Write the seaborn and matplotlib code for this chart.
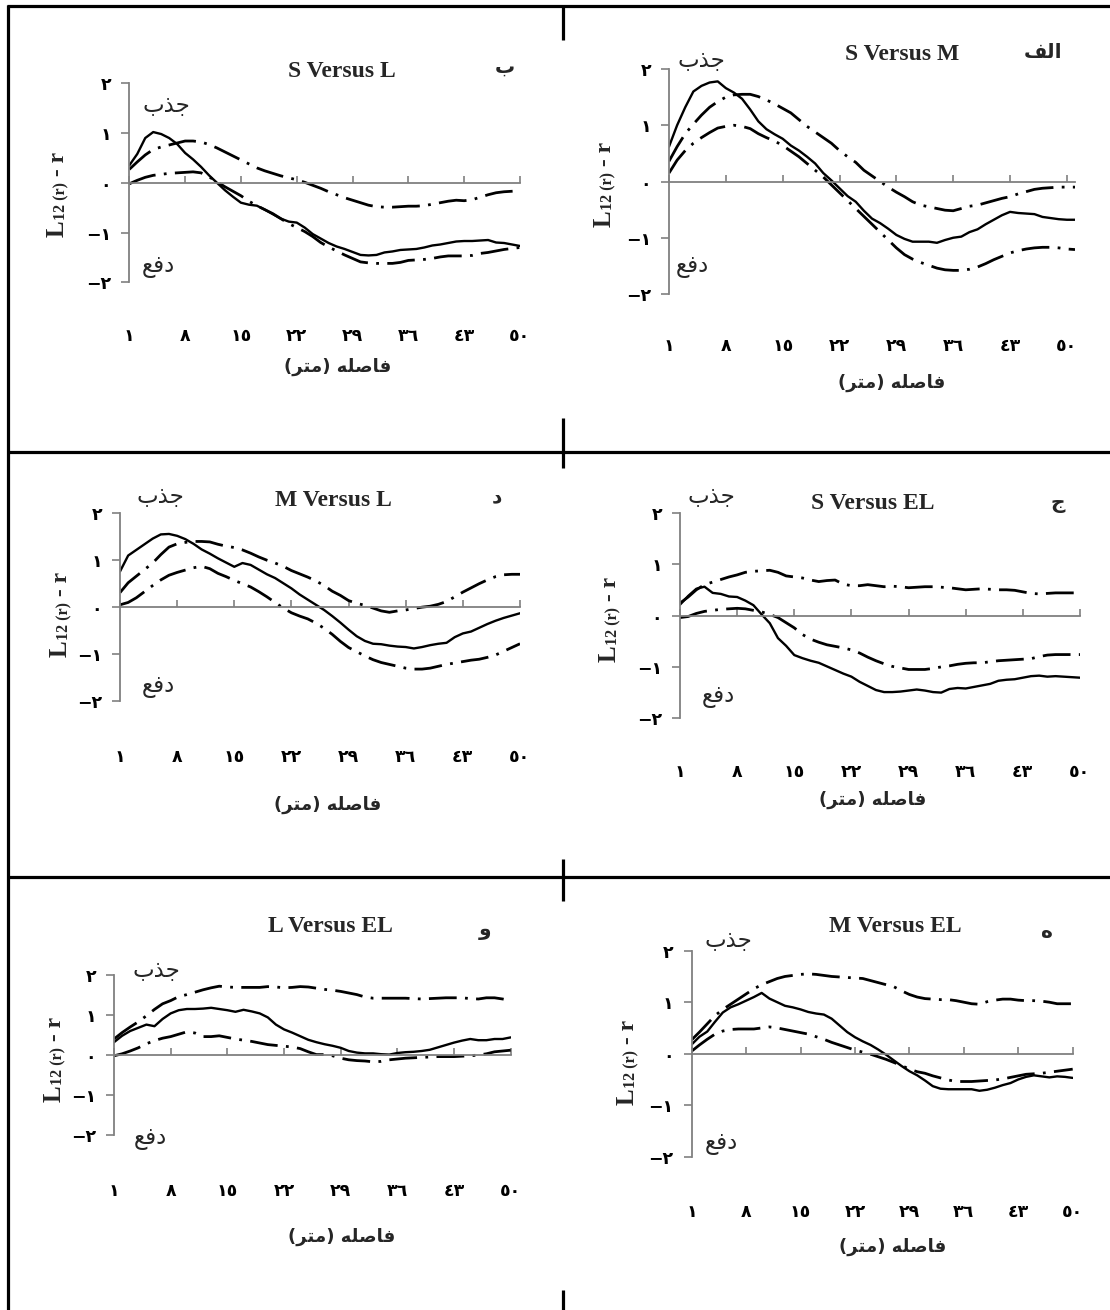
import numpy as np
import pandas as pd
import matplotlib
matplotlib.use("Agg")
import matplotlib.pyplot as plt
from matplotlib.lines import Line2D
import seaborn as sns

# ---------------- data ----------------
DIST_SM = list(range(1, 52))   # panel "alef" runs one category further
DIST = list(range(1, 51))

# S versus M (alef)
SM_OBS = [0.62, 1.00, 1.32, 1.60, 1.70, 1.76, 1.78, 1.66, 1.58, 1.47,
          1.28, 1.07, 0.93, 0.84, 0.76, 0.64, 0.55, 0.44, 0.32, 0.15,
          0.02, -0.12, -0.26, -0.36, -0.52, -0.66, -0.74, -0.84, -0.95, -1.02,
          -1.07, -1.07, -1.07, -1.09, -1.04, -1.00, -0.98, -0.90, -0.85, -0.76,
          -0.68, -0.60, -0.54, -0.56, -0.57, -0.58, -0.63, -0.65, -0.67, -0.68, -0.68]
SM_HI = [0.36, 0.62, 0.85, 1.02, 1.18, 1.32, 1.42, 1.50, 1.54, 1.55,
         1.55, 1.51, 1.45, 1.38, 1.30, 1.22, 1.10, 0.98, 0.88, 0.78,
         0.68, 0.55, 0.44, 0.34, 0.20, 0.10, 0.00, -0.10, -0.19, -0.27,
         -0.36, -0.42, -0.45, -0.48, -0.51, -0.52, -0.48, -0.44, -0.42, -0.38,
         -0.34, -0.30, -0.27, -0.22, -0.18, -0.14, -0.12, -0.11, -0.10, -0.10, -0.10]
SM_LO = [0.15, 0.38, 0.55, 0.68, 0.78, 0.87, 0.95, 0.98, 1.00, 0.98,
         0.94, 0.85, 0.78, 0.72, 0.64, 0.54, 0.44, 0.32, 0.20, 0.08,
         -0.06, -0.20, -0.34, -0.48, -0.62, -0.76, -0.90, -1.04, -1.18, -1.30,
         -1.38, -1.44, -1.49, -1.54, -1.57, -1.58, -1.58, -1.56, -1.52, -1.46,
         -1.39, -1.33, -1.27, -1.23, -1.20, -1.18, -1.17, -1.17, -1.18, -1.20, -1.21]

# S versus L (be)
SL_OBS = [0.35, 0.58, 0.90, 1.02, 0.98, 0.90, 0.78, 0.60, 0.47, 0.32,
          0.15, 0.00, -0.15, -0.28, -0.40, -0.44, -0.46, -0.54, -0.63, -0.72,
          -0.78, -0.80, -0.90, -1.03, -1.12, -1.21, -1.28, -1.33, -1.39, -1.45,
          -1.46, -1.45, -1.40, -1.38, -1.35, -1.34, -1.33, -1.30, -1.26, -1.24,
          -1.21, -1.18, -1.17, -1.17, -1.16, -1.15, -1.20, -1.21, -1.24, -1.27]
SL_HI = [0.27, 0.42, 0.56, 0.67, 0.72, 0.76, 0.80, 0.84, 0.84, 0.82,
         0.77, 0.70, 0.62, 0.54, 0.46, 0.38, 0.30, 0.24, 0.19, 0.14,
         0.10, 0.06, 0.01, -0.05, -0.11, -0.18, -0.24, -0.30, -0.35, -0.40,
         -0.45, -0.48, -0.49, -0.49, -0.48, -0.47, -0.47, -0.46, -0.43, -0.40,
         -0.37, -0.35, -0.36, -0.34, -0.29, -0.24, -0.20, -0.18, -0.17, -0.16]
SL_LO = [-0.02, 0.05, 0.11, 0.15, 0.17, 0.19, 0.20, 0.21, 0.22, 0.20,
         0.12, 0.02, -0.08, -0.17, -0.26, -0.37, -0.46, -0.54, -0.62, -0.72,
         -0.82, -0.90, -0.98, -1.08, -1.20, -1.29, -1.37, -1.45, -1.52, -1.59,
         -1.61, -1.62, -1.62, -1.62, -1.60, -1.56, -1.55, -1.54, -1.52, -1.49,
         -1.47, -1.47, -1.47, -1.46, -1.42, -1.40, -1.37, -1.34, -1.32, -1.30]

# S versus EL (jim)
SEL_OBS = [0.21, 0.38, 0.52, 0.56, 0.44, 0.42, 0.37, 0.36, 0.29, 0.20,
           0.02, -0.15, -0.44, -0.59, -0.77, -0.83, -0.88, -0.92, -0.99, -1.06,
           -1.13, -1.19, -1.29, -1.37, -1.45, -1.49, -1.49, -1.48, -1.46, -1.44,
           -1.46, -1.49, -1.50, -1.43, -1.41, -1.42, -1.39, -1.36, -1.33, -1.27,
           -1.25, -1.24, -1.21, -1.18, -1.17, -1.19, -1.18, -1.19, -1.20, -1.21]
SEL_HI = [0.24, 0.36, 0.50, 0.60, 0.65, 0.70, 0.75, 0.79, 0.84, 0.86,
          0.87, 0.88, 0.84, 0.77, 0.75, 0.73, 0.69, 0.66, 0.68, 0.69,
          0.61, 0.58, 0.58, 0.60, 0.58, 0.56, 0.57, 0.56, 0.54, 0.55,
          0.56, 0.56, 0.55, 0.54, 0.52, 0.50, 0.51, 0.52, 0.51, 0.50,
          0.50, 0.49, 0.46, 0.43, 0.42, 0.43, 0.44, 0.44, 0.44, 0.44]
SEL_LO = [-0.04, -0.02, 0.04, 0.08, 0.10, 0.12, 0.13, 0.14, 0.13, 0.10,
          0.07, 0.02, -0.04, -0.14, -0.24, -0.37, -0.46, -0.52, -0.57, -0.60,
          -0.63, -0.67, -0.73, -0.81, -0.88, -0.94, -0.99, -1.02, -1.05, -1.05,
          -1.05, -1.03, -1.00, -0.98, -0.95, -0.93, -0.92, -0.92, -0.90, -0.88,
          -0.87, -0.86, -0.85, -0.84, -0.80, -0.77, -0.76, -0.76, -0.76, -0.76]

# M versus L (dal)
ML_OBS = [0.76, 1.10, 1.22, 1.34, 1.46, 1.55, 1.56, 1.52, 1.45, 1.35,
          1.23, 1.14, 1.04, 0.95, 0.86, 0.94, 0.90, 0.80, 0.70, 0.62,
          0.51, 0.40, 0.27, 0.16, 0.05, -0.06, -0.19, -0.33, -0.48, -0.62,
          -0.72, -0.78, -0.79, -0.82, -0.84, -0.85, -0.88, -0.85, -0.81, -0.78,
          -0.76, -0.64, -0.56, -0.52, -0.44, -0.36, -0.29, -0.23, -0.18, -0.13]
ML_HI = [0.31, 0.52, 0.66, 0.80, 0.94, 1.12, 1.28, 1.35, 1.38, 1.40,
         1.40, 1.39, 1.34, 1.30, 1.27, 1.22, 1.15, 1.07, 1.00, 0.94,
         0.87, 0.78, 0.71, 0.64, 0.56, 0.46, 0.34, 0.25, 0.14, 0.08,
         0.04, -0.02, -0.08, -0.11, -0.08, -0.06, -0.03, 0.00, 0.02, 0.06,
         0.12, 0.22, 0.32, 0.41, 0.50, 0.58, 0.65, 0.69, 0.70, 0.70]
ML_LO = [0.05, 0.10, 0.20, 0.33, 0.46, 0.58, 0.68, 0.74, 0.79, 0.84,
         0.87, 0.82, 0.72, 0.65, 0.57, 0.50, 0.43, 0.33, 0.22, 0.10,
         -0.02, -0.12, -0.19, -0.25, -0.34, -0.45, -0.58, -0.73, -0.86, -0.95,
         -1.04, -1.12, -1.18, -1.22, -1.26, -1.30, -1.32, -1.32, -1.30, -1.26,
         -1.22, -1.19, -1.16, -1.13, -1.11, -1.07, -1.02, -0.94, -0.86, -0.78]

# M versus EL (he)
MEL_OBS = [0.18, 0.33, 0.43, 0.62, 0.80, 0.90, 0.96, 1.03, 1.10, 1.18,
           1.07, 1.00, 0.93, 0.90, 0.86, 0.81, 0.78, 0.76, 0.68, 0.55,
           0.42, 0.32, 0.24, 0.17, 0.08, -0.02, -0.13, -0.24, -0.34, -0.42,
           -0.52, -0.63, -0.68, -0.69, -0.69, -0.69, -0.69, -0.72, -0.70, -0.66,
           -0.61, -0.57, -0.50, -0.45, -0.42, -0.44, -0.46, -0.44, -0.45, -0.47]
MEL_HI = [0.27, 0.42, 0.58, 0.74, 0.86, 0.96, 1.06, 1.16, 1.26, 1.34,
          1.40, 1.46, 1.50, 1.52, 1.54, 1.55, 1.54, 1.52, 1.50, 1.49,
          1.48, 1.47, 1.46, 1.42, 1.38, 1.34, 1.30, 1.22, 1.15, 1.10,
          1.07, 1.06, 1.05, 1.05, 1.03, 1.00, 0.97, 0.96, 1.01, 1.04,
          1.06, 1.06, 1.04, 1.03, 1.03, 1.02, 1.00, 0.97, 0.97, 0.97]
MEL_LO = [0.05, 0.17, 0.28, 0.38, 0.44, 0.47, 0.48, 0.48, 0.48, 0.50,
          0.52, 0.50, 0.47, 0.44, 0.41, 0.38, 0.33, 0.28, 0.22, 0.17,
          0.12, 0.07, 0.03, -0.01, -0.06, -0.11, -0.17, -0.23, -0.30, -0.35,
          -0.38, -0.43, -0.47, -0.51, -0.54, -0.54, -0.54, -0.53, -0.52, -0.51,
          -0.49, -0.46, -0.43, -0.40, -0.39, -0.38, -0.36, -0.34, -0.32, -0.30]

# L versus EL (vav)
LEL_OBS = [0.32, 0.48, 0.60, 0.68, 0.76, 0.72, 0.90, 1.04, 1.12, 1.15,
           1.15, 1.16, 1.18, 1.15, 1.12, 1.08, 1.13, 1.09, 1.04, 0.94,
           0.76, 0.64, 0.56, 0.47, 0.38, 0.32, 0.27, 0.23, 0.18, 0.10,
           0.06, 0.04, 0.04, 0.02, 0.01, 0.05, 0.07, 0.08, 0.10, 0.13,
           0.19, 0.25, 0.31, 0.36, 0.40, 0.37, 0.37, 0.40, 0.40, 0.44]
LEL_HI = [0.40, 0.56, 0.70, 0.83, 0.98, 1.14, 1.28, 1.36, 1.46, 1.51,
          1.57, 1.63, 1.68, 1.72, 1.70, 1.69, 1.69, 1.69, 1.69, 1.71,
          1.70, 1.68, 1.69, 1.71, 1.70, 1.67, 1.64, 1.62, 1.59, 1.55,
          1.51, 1.45, 1.42, 1.42, 1.42, 1.42, 1.42, 1.41, 1.40, 1.41,
          1.42, 1.43, 1.43, 1.43, 1.41, 1.40, 1.43, 1.43, 1.40, 1.36]
LEL_LO = [-0.02, 0.03, 0.10, 0.18, 0.28, 0.36, 0.42, 0.46, 0.52, 0.58,
          0.55, 0.46, 0.46, 0.48, 0.44, 0.40, 0.37, 0.34, 0.30, 0.26,
          0.24, 0.22, 0.20, 0.16, 0.08, 0.01, 0.01, -0.02, -0.08, -0.12,
          -0.14, -0.15, -0.17, -0.16, -0.12, -0.10, -0.08, -0.07, -0.06, -0.05,
          -0.04, -0.04, -0.04, -0.03, -0.02, 0.00, 0.03, 0.08, 0.10, 0.12]

X_TICKS = [1, 8, 15, 22, 29, 36, 43, 50]
X_TICK_LABELS = ["\u0661", "\u0668", "\u0661\u0665", "\u0662\u0662", "\u0662\u0669",
                 "\u0663\u0666", "\u0664\u0663", "\u0665\u0660"]
Y_TICKS = [-2, -1, 0, 1, 2]
Y_TICK_LABELS = ["\u2212\u0662", "\u2212\u0661", "\u0660", "\u0661", "\u0662"]

TITLES = ["S Versus M", "S Versus L", "S Versus EL", "M Versus L", "M Versus EL", "L Versus EL"]
# Persian labels, written in shaped (presentation-form) visual order
PANEL_LETTERS = ["\uFED2\uFEDF\uFE8D",  # الف
                 "\uFE8F",              # ب
                 "\uFE9D",              # ج
                 "\uFEA9",              # د
                 "\uFEE9",              # ه
                 "\uFEED"]              # و
ATTRACTION = "\uFE8F\uFEAC\uFE9F"       # جذب
REPULSION = "\uFECA\uFED3\uFEA9"        # دفع
X_LABEL = "(\uFEAE\uFE98\uFEE3) \uFEEA\uFEE0\uFEBB\uFE8E\uFED3"   # فاصله (متر)

SERIES = [
    (DIST_SM, SM_OBS, SM_HI, SM_LO),
    (DIST, SL_OBS, SL_HI, SL_LO),
    (DIST, SEL_OBS, SEL_HI, SEL_LO),
    (DIST, ML_OBS, ML_HI, ML_LO),
    (DIST, MEL_OBS, MEL_HI, MEL_LO),
    (DIST, LEL_OBS, LEL_HI, LEL_LO),
]

# ---------------- layout (pixels, top-left origin) ----------------
LAYOUT = [
    dict(box=(669, 1075, 69, 294), title=(901.7, 55), letter=(1043, 52),
         jazb=(701.7, 60), dafe=(692, 267), xtick_y=347, xlabel=(892, 383), ylab=(616, 227)),
    dict(box=(129.3, 520, 83.3, 282.3), title=(341.7, 71.7), letter=(505, 66.7),
         jazb=(166.7, 105), dafe=(158, 266.7), xtick_y=336.7, xlabel=(338, 366.7), ylab=(69, 237)),
    dict(box=(680, 1080, 512.7, 718.3), title=(873, 503), letter=(1058, 503),
         jazb=(711.7, 496.7), dafe=(718, 696.7), xtick_y=773, xlabel=(873, 800), ylab=(621, 662)),
    dict(box=(120, 520, 513.3, 701), title=(333, 500), letter=(496.7, 496.7),
         jazb=(160, 496.7), dafe=(158, 686.7), xtick_y=758.3, xlabel=(328, 805), ylab=(72, 657)),
    dict(box=(691.7, 1072.7, 950.7, 1156.7), title=(895, 926.7), letter=(1046.7, 933),
         jazb=(728, 940), dafe=(721.7, 1143.3), xtick_y=1213, xlabel=(893, 1246.7), ylab=(639, 1105)),
    dict(box=(114, 510.7, 975, 1135), title=(330, 926.7), letter=(485, 930),
         jazb=(156, 970), dafe=(150, 1138.3), xtick_y=1191.7, xlabel=(341.7, 1236.7), ylab=(66, 1102)),
]

W, H = 1110, 1310
AR = ["DejaVu Sans"]
SERIF = ["Liberation Serif", "DejaVu Sans"]
AXIS_GRAY = "#808080"
DASH = (0, (10, 3, 1, 3))

sns.set_style("ticks")
plt.rcParams["font.family"] = ["Liberation Serif", "DejaVu Sans"]

fig = plt.figure(figsize=(W / 100, H / 100), dpi=100)
fig.patch.set_facecolor("white")


def ftext(xy, s, **kw):
    fig.text(xy[0] / W, 1 - xy[1] / H, s, ha="center", va="center", **kw)


for (dist, obs, hi, lo), lay, title, letter in zip(SERIES, LAYOUT, TITLES, PANEL_LETTERS):
    x0, x1, yt, yb = lay["box"]
    ax = fig.add_axes([x0 / W, 1 - yb / H, (x1 - x0) / W, (yb - yt) / H])
    ax.patch.set_visible(False)
    df = pd.DataFrame({"dist": dist, "obs": obs, "hi": hi, "lo": lo})
    for col in ("hi", "lo"):
        sns.lineplot(data=df, x="dist", y=col, ax=ax, color="black",
                     linewidth=2.0, linestyle=DASH)
    sns.lineplot(data=df, x="dist", y="obs", ax=ax, color="black", linewidth=1.7)

    ax.set_xlim(1, dist[-1])
    ax.set_ylim(-2, 2)
    ax.set_xlabel("")
    ax.set_ylabel("")
    for s in ("top", "right"):
        ax.spines[s].set_visible(False)
    ax.spines["bottom"].set_position(("data", 0))
    for s in ("bottom", "left"):
        ax.spines[s].set_color(AXIS_GRAY)
        ax.spines[s].set_linewidth(1.3)

    ax.set_xticks(X_TICKS, X_TICK_LABELS, fontsize=12.5, fontweight="bold", family=AR)
    ax.set_yticks(Y_TICKS, Y_TICK_LABELS, fontsize=12.5, fontweight="bold", family=AR)
    y0 = (yt + yb) / 2
    pad_pt = (lay["xtick_y"] - 10 - y0) * 0.72
    ax.tick_params(axis="x", bottom=True, direction="in", length=5, width=1.2,
                   color=AXIS_GRAY, pad=pad_pt, labelcolor="black")
    ax.tick_params(axis="y", left=True, direction="out", length=6, width=1.2,
                   color=AXIS_GRAY, pad=7, labelcolor="black")

    ftext(lay["title"], title, fontsize=17, fontweight="bold", family=SERIF)
    ftext(lay["letter"], letter, fontsize=14.5, fontweight="bold", family=AR)
    ftext(lay["jazb"], ATTRACTION, fontsize=16.5, family=AR)
    ftext(lay["dafe"], REPULSION, fontsize=16.5, family=AR)
    ftext(lay["xlabel"], X_LABEL, fontsize=13, fontweight="bold", family=AR)

    # y label "L12 (r) - r" with a smaller middle part
    xr, ybot = lay["ylab"]
    t1 = fig.text(xr / W, 1 - ybot / H, "L", rotation=90, ha="right", va="bottom",
                  fontsize=18, fontweight="bold", family=SERIF)
    t2 = ax.annotate("12 (r)", xy=(1, 1), xycoords=t1, rotation=90, ha="right", va="bottom",
                     fontsize=11.5, fontweight="bold", family=SERIF, annotation_clip=False)
    ax.annotate(" - r", xy=(1, 1), xycoords=t2, rotation=90, ha="right", va="bottom",
                fontsize=17, fontweight="bold", family=SERIF, annotation_clip=False)

# ---------------- table frame ----------------
LINE_KW = dict(color="black", linewidth=2.3, transform=fig.transFigure, solid_capstyle="butt")


def hline(y, xa, xb):
    fig.add_artist(Line2D([xa / W, xb / W], [1 - y / H, 1 - y / H], **LINE_KW))


def vline(x, ya, yb):
    fig.add_artist(Line2D([x / W, x / W], [1 - ya / H, 1 - yb / H], **LINE_KW))


hline(6, 7, 1110)
hline(452, 7, 1110)
hline(877, 7, 1110)
vline(8, 5, 1310)
for ya, yb in [(5, 40), (418, 468), (859, 901), (1290, 1310)]:
    vline(563, ya, yb)

fig.savefig("out.png", dpi=100, facecolor="white")
